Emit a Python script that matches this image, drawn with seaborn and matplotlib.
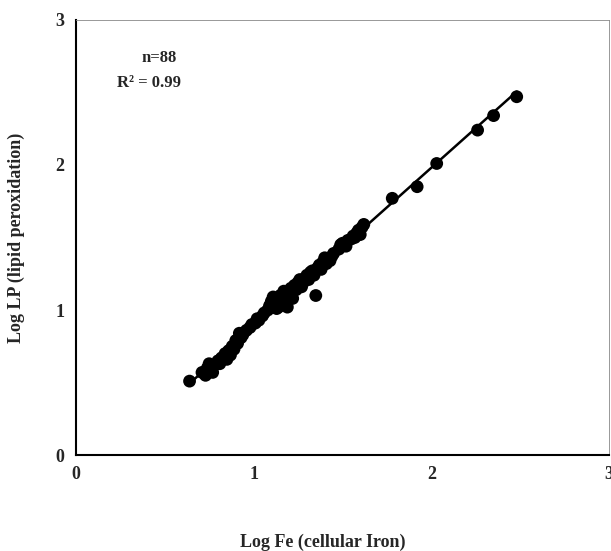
import numpy as np
import pandas as pd
import seaborn as sns
import matplotlib.pyplot as plt

# Values (log scale, base 10)
log_fe = [0.64, 0.71, 0.73, 0.74, 0.75, 0.76, 0.77, 0.78, 0.80, 0.81,
          0.82, 0.84, 0.85, 0.86, 0.87, 0.88, 0.89, 0.90, 0.91, 0.92,
          0.93, 0.94, 0.96, 0.98, 0.99, 1.01, 1.02, 1.03, 1.05, 1.06,
          1.08, 1.09, 1.10, 1.11, 1.12, 1.13, 1.13, 1.14, 1.15, 1.16,
          1.17, 1.18, 1.19, 1.20, 1.21, 1.22, 1.23, 1.24, 1.25, 1.26,
          1.27, 1.28, 1.29, 1.30, 1.31, 1.32, 1.33, 1.34, 1.35, 1.36,
          1.37, 1.38, 1.39, 1.40, 1.41, 1.42, 1.43, 1.44, 1.45, 1.48,
          1.49, 1.50, 1.52, 1.53, 1.55, 1.56, 1.57, 1.58, 1.59, 1.60,
          1.61, 1.62, 1.78, 1.92, 2.03, 2.26, 2.35, 2.48]
log_lp = [0.51, 0.57, 0.55, 0.60, 0.63, 0.59, 0.57, 0.62, 0.65, 0.63,
          0.67, 0.70, 0.66, 0.72, 0.69, 0.75, 0.73, 0.79, 0.77, 0.84,
          0.81, 0.83, 0.86, 0.88, 0.90, 0.91, 0.94, 0.93, 0.96, 0.98,
          1.00, 1.03, 1.06, 1.09, 1.04, 1.07, 1.01, 1.02, 1.10, 1.06,
          1.13, 1.09, 1.02, 1.12, 1.15, 1.08, 1.17, 1.14, 1.19, 1.21,
          1.16, 1.19, 1.22, 1.24, 1.21, 1.26, 1.27, 1.24, 1.10, 1.29,
          1.31, 1.28, 1.33, 1.36, 1.32, 1.35, 1.34, 1.37, 1.39, 1.42,
          1.45, 1.46, 1.44, 1.48, 1.49, 1.51, 1.50, 1.53, 1.55, 1.52,
          1.57, 1.59, 1.77, 1.85, 2.01, 2.24, 2.34, 2.47]

ticks = [0, 1, 2, 3]

df = pd.DataFrame({'fe': log_fe, 'lp': log_lp})

sns.set_style('white')
plt.rcParams['font.family'] = ['Liberation Serif', 'DejaVu Serif']
plt.rcParams['font.weight'] = 'bold'

fig = plt.figure(figsize=(6.11, 5.51), dpi=100)
ax = fig.add_axes([0.124, 0.174, 0.873, 0.790])

sns.regplot(data=df, x='fe', y='lp', ci=None, truncate=True, ax=ax,
            scatter_kws={'s': 85, 'color': 'black', 'edgecolors': 'none', 'alpha': 1},
            line_kws={'color': 'black', 'lw': 1.8})

ax.set_xlim(0, 3)
ax.set_ylim(0, 3)
ax.set_xticks(ticks)
ax.set_yticks(ticks)
ax.set_xticklabels([str(t) for t in ticks], fontsize=13, fontweight='bold')
ax.set_yticklabels([str(t) for t in ticks], fontsize=13, fontweight='bold')
ax.tick_params(direction='out', length=4, width=1, color='black', pad=4)

for side in ['left', 'bottom']:
    ax.spines[side].set_color('black')
    ax.spines[side].set_linewidth(1.5)
for side in ['top', 'right']:
    ax.spines[side].set_color('#888888')
    ax.spines[side].set_linewidth(0.6)

ax.set_xlabel('Log Fe (cellular Iron)', fontsize=13, fontweight='bold')
ax.xaxis.set_label_coords(0.463, -0.18)
ax.set_ylabel('Log LP (lipid peroxidation)', fontsize=13, fontweight='bold')
ax.yaxis.set_label_coords(-0.095, 0.5)

ax.text(0.156, 0.913, 'n=88', transform=ax.transAxes, ha='center', va='center',
        fontsize=12, fontweight='bold')
ax.text(0.077, 0.855, 'R² = 0.99', transform=ax.transAxes, ha='left',
        va='center', fontsize=12, fontweight='bold')

fig.savefig('out.png', dpi=100)
